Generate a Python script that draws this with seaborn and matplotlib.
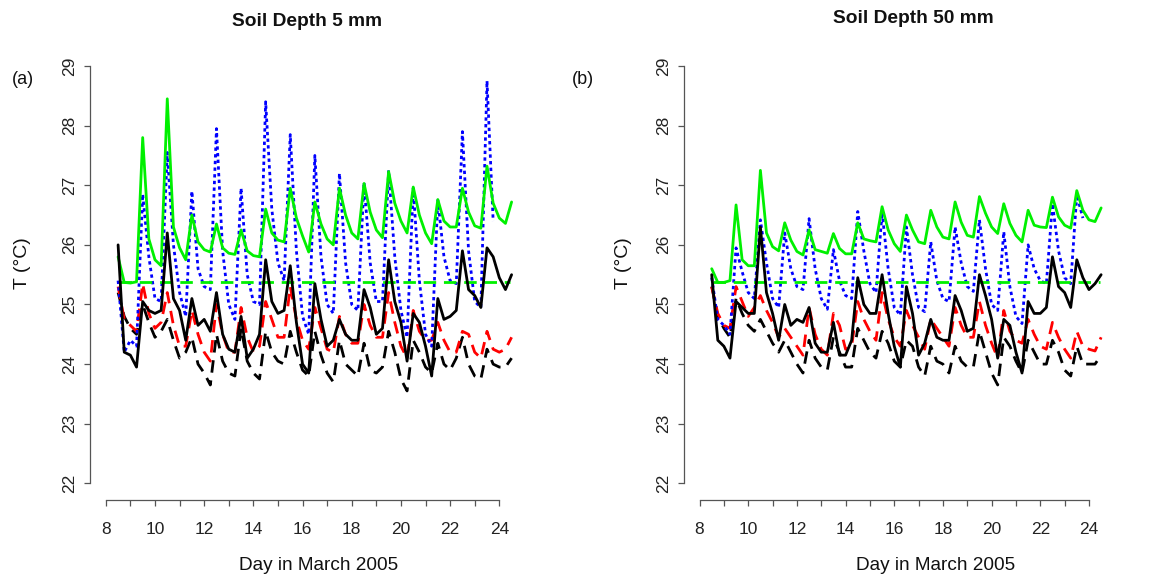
import numpy as np
import pandas as pd
import matplotlib
matplotlib.use("Agg")
import matplotlib.pyplot as plt
import seaborn as sns

# sampling clock: every 6 h, 8.5 .. 24.5 March 2005
day = np.arange(8.5, 24.51, 0.25)

# ---- (a) soil depth 5 mm ----
a_green = [25.8, 25.37, 25.36, 25.38,
           27.8, 26.1, 25.75, 25.65,
           28.45, 26.3, 25.95, 25.75,
           26.5, 26.05, 25.92, 25.88,
           26.35, 25.95, 25.86, 25.84,
           26.25, 25.9, 25.82, 25.8,
           26.6, 26.2, 26.08, 26.05,
           26.95, 26.45, 26.15, 25.88,
           26.72, 26.35, 26.1, 26.0,
           26.95, 26.5, 26.2, 26.1,
           27.03, 26.55, 26.25, 26.12,
           27.23, 26.7, 26.4, 26.2,
           26.97, 26.5, 26.2, 26.02,
           26.76, 26.4, 26.3, 26.3,
           26.95, 26.55, 26.32, 26.28,
           27.32, 26.7, 26.45, 26.36,
           26.72]
a_blue = [25.4, 24.2, 24.4, 24.3,
          26.85, 25.8, 25.1, 25.05,
          27.55, 26.0, 25.2, 24.8,
          26.9, 25.6, 25.3, 25.25,
          27.95, 25.9, 25.0, 24.75,
          26.95, 25.5, 25.05, 25.0,
          28.4, 26.6, 25.7, 25.4,
          27.85, 25.9, 24.8, 24.5,
          27.5, 25.8, 25.0, 24.85,
          27.2, 25.7, 25.0, 24.9,
          27.05, 25.7, 25.05, 25.05,
          27.25, 25.8, 24.9, 24.45,
          26.95, 25.4, 24.5, 24.3,
          26.75, 25.8, 25.4, 25.35,
          27.9, 25.9, 25.05, 24.95,
          28.75, 26.4]
a_black = [26.0, 24.2, 24.15, 23.95,
           25.05, 24.9, 24.85, 24.9,
           26.2, 25.1, 24.9, 24.4,
           25.1, 24.65, 24.75, 24.55,
           25.2, 24.5, 24.25, 24.2,
           24.8, 24.1, 24.25, 24.5,
           25.75, 25.05, 24.85, 24.9,
           25.65, 24.7, 24.0, 23.85,
           25.35, 24.75, 24.3, 24.4,
           24.75, 24.5, 24.4, 24.4,
           25.25, 24.95, 24.5, 24.6,
           25.75, 25.05, 24.7, 24.05,
           24.85, 24.7, 24.3, 23.8,
           25.1, 24.75, 24.8, 24.9,
           25.9, 25.25, 25.15, 24.95,
           25.95, 25.8, 25.45, 25.25,
           25.5]
a_red = [25.3, 24.75, 24.65, 24.55,
         25.35, 24.85, 24.6, 24.7,
         25.2, 24.65, 24.3, 24.3,
         24.9, 24.5, 24.2, 24.05,
         25.0, 24.5, 24.2, 24.2,
         24.95, 24.45, 24.2, 24.3,
         25.05, 24.75, 24.45, 24.45,
         25.3, 24.75, 24.4, 24.25,
         24.95, 24.6, 24.25, 24.2,
         24.8, 24.5, 24.35, 24.35,
         25.0, 24.65, 24.45, 24.45,
         25.2, 24.7, 24.3, 24.1,
         24.9, 24.55, 24.4, 24.4,
         24.7, 24.4, 24.2, 24.2,
         24.55, 24.5, 24.2, 24.1,
         24.55, 24.25, 24.2, 24.25,
         24.45]
a_black_dash = [25.2, 24.8, 24.6, 24.5,
                25.0, 24.7, 24.45, 24.55,
                24.75, 24.4, 24.1, 24.2,
                24.45, 24.0, 23.85, 23.65,
                24.5, 24.05, 23.85, 23.8,
                24.6, 24.05, 23.85, 23.75,
                24.55, 24.2, 24.05, 24.0,
                24.55, 24.2, 23.9, 23.8,
                24.55, 24.15, 23.85, 23.7,
                24.4, 24.0, 23.9, 23.8,
                24.35, 23.9, 23.85, 23.95,
                24.55, 24.2, 23.75, 23.55,
                24.4, 24.2, 23.95, 23.85,
                24.35, 24.0, 23.9, 24.1,
                24.45, 24.0, 23.8, 23.75,
                24.25, 24.0, 23.95, 23.95,
                24.1]

# ---- (b) soil depth 50 mm ----
b_green = [25.6, 25.37, 25.37, 25.4,
           26.67, 25.75, 25.65, 25.65,
           27.25, 26.2, 25.97, 25.9,
           26.37, 26.08, 25.89, 25.83,
           26.25, 25.92, 25.89, 25.86,
           26.19, 25.94, 25.85, 25.85,
           26.37, 26.1, 26.07, 26.05,
           26.64, 26.25, 26.02, 25.89,
           26.5, 26.25, 26.05, 26.02,
           26.58, 26.3, 26.13, 26.1,
           26.72, 26.38, 26.16, 26.13,
           26.81, 26.53, 26.3, 26.19,
           26.69, 26.36, 26.16, 26.05,
           26.58, 26.33, 26.3, 26.29,
           26.8, 26.47, 26.33, 26.28,
           26.91, 26.58, 26.42, 26.39,
           26.62]
b_blue = [25.45, 24.75, 24.65, 24.5,
          25.95, 25.55, 25.2, 25.1,
          26.42, 25.7, 25.1, 24.95,
          26.2, 25.6, 25.3, 25.25,
          26.44, 25.6, 25.1, 24.92,
          25.92, 25.4, 25.15, 25.1,
          26.56, 25.9, 25.35, 25.2,
          26.55, 25.6, 24.95, 24.82,
          26.3, 25.5, 24.95, 24.88,
          26.05, 25.4, 25.1, 25.05,
          26.3, 25.7, 25.3, 25.22,
          26.42, 25.6, 25.0, 24.9,
          26.22, 25.3, 24.8, 24.68,
          26.0, 25.6, 25.4, 25.35,
          26.69, 25.9, 25.45, 25.35,
          26.84, 26.45]
b_black = [25.5, 24.4, 24.3, 24.1,
           25.05, 24.95, 24.85, 24.85,
           26.3, 25.2, 24.85, 24.4,
           25.0, 24.65, 24.75, 24.7,
           24.95, 24.35, 24.2, 24.2,
           24.7, 24.15, 24.15, 24.4,
           25.45, 25.0, 24.85, 24.85,
           25.5, 24.85, 24.3, 23.95,
           25.3, 24.85, 24.15, 24.35,
           24.75, 24.45, 24.4, 24.4,
           25.15, 24.9, 24.55, 24.6,
           25.5, 25.15, 24.75, 24.1,
           24.75, 24.65, 24.2, 23.85,
           25.05, 24.85, 24.85, 24.95,
           25.8, 25.3, 25.2, 24.95,
           25.75, 25.45, 25.25, 25.35,
           25.5]
b_red = [25.3, 24.85, 24.65, 24.6,
         25.3, 25.05, 24.8, 24.95,
         25.15, 24.9, 24.7, 24.45,
         24.6, 24.45, 24.3, 24.15,
         24.95, 24.5, 24.25, 24.15,
         24.85, 24.65, 24.25, 24.3,
         25.05, 24.75, 24.55, 24.4,
         25.2, 24.75, 24.45, 24.3,
         24.9, 24.65, 24.45, 24.25,
         24.75, 24.6, 24.45, 24.3,
         24.95, 24.65, 24.45, 24.45,
         25.05, 24.65, 24.35, 24.1,
         24.9, 24.55, 24.4, 24.35,
         24.75, 24.5, 24.3, 24.25,
         24.7, 24.45, 24.25, 24.1,
         24.55, 24.3, 24.25, 24.22,
         24.45]
b_black_dash = [25.3, 24.8, 24.6, 24.45,
                25.1, 24.85, 24.65, 24.55,
                24.75, 24.55, 24.35, 24.2,
                24.4, 24.2, 24.0, 23.85,
                24.4, 24.1, 23.95, 23.9,
                24.45, 24.2, 23.95, 23.95,
                24.6, 24.4, 24.2, 24.1,
                24.55, 24.35, 24.05, 23.95,
                24.4, 24.3, 23.95, 23.8,
                24.3, 24.05, 24.0, 23.85,
                24.3, 24.05, 23.95, 23.95,
                24.55, 24.2, 23.85, 23.65,
                24.45, 24.3, 24.05, 23.85,
                24.4, 24.2, 24.0, 24.0,
                24.4, 24.2, 23.9, 23.8,
                24.3, 24.0, 24.0, 24.0,
                24.15]

# flat reference run (green dashed)
ref_day = [8.55, 24.45]
a_ref = [25.38, 25.38]
b_ref = [25.38, 25.38]

sns.set_style("white")
plt.rcParams["font.family"] = ["Liberation Sans", "DejaVu Sans"]

fig = plt.figure(figsize=(11.65, 5.77), dpi=100)
ax_a = fig.add_axes([0.0773, 0.1334, 0.3648, 0.7811])
ax_b = fig.add_axes([0.5871, 0.1334, 0.3610, 0.7811])

dash = (0, (4.5, 2.8))
dots = (0, (1.2, 1.2))
lw = 2.0
green = "#00f000"


def draw(ax, g, blue, black, red, black_dash, ref):
    sns.lineplot(x=day, y=black_dash, ax=ax, color="black", lw=lw, linestyle=dash)
    sns.lineplot(x=day, y=red, ax=ax, color="#ff0000", lw=lw, linestyle=dash)
    sns.lineplot(x=day[:len(blue)], y=blue, ax=ax, color="#0000ff", lw=lw, linestyle=dots)
    sns.lineplot(x=ref_day, y=ref, ax=ax, color=green, lw=lw, linestyle=dash)
    sns.lineplot(x=day, y=g, ax=ax, color=green, lw=lw)
    sns.lineplot(x=day, y=black, ax=ax, color="black", lw=lw)

    ax.set_xlim(7.36, 24.64)
    ax.set_ylim(21.72, 29.28)
    ax.set_xticks(range(8, 25))
    ax.set_xticklabels([str(d) if d % 2 == 0 else "" for d in range(8, 25)])
    ax.set_yticks(range(22, 30))
    ax.set_yticklabels([str(v) for v in range(22, 30)], rotation=90, va="center")
    ax.spines["top"].set_visible(False)
    ax.spines["right"].set_visible(False)
    ax.spines["left"].set_bounds(22, 29)
    ax.spines["bottom"].set_bounds(8, 24)
    for s in ("left", "bottom"):
        ax.spines[s].set_color("#555555")
        ax.spines[s].set_linewidth(0.9)
    ax.tick_params(axis="both", bottom=True, left=True, direction="out",
                   length=4.5, width=0.9, color="#555555",
                   labelsize=12.5, labelcolor="#222222")
    ax.tick_params(axis="x", pad=11)
    ax.tick_params(axis="y", pad=4.5)
    ax.set_xlabel("")
    ax.set_ylabel("")


draw(ax_a, a_green, a_blue, a_black, a_red, a_black_dash, a_ref)
draw(ax_b, b_green, b_blue, b_black, b_red, b_black_dash, b_ref)

W, H = 1165, 577
txt = dict(ha="center", va="center", color="#111111")
fig.text(307 / W, 1 - 21 / H, "Soil Depth 5 mm", fontsize=13.8, fontweight="bold", **txt)
fig.text(913 / W, 1 - 18.5 / H, "Soil Depth 50 mm", fontsize=13.8, fontweight="bold", **txt)
fig.text(22.5 / W, 1 - 79.5 / H, "(a)", fontsize=13, **txt)
fig.text(583 / W, 1 - 79.5 / H, "(b)", fontsize=13, **txt)
fig.text(22.5 / W, 1 - 263.5 / H, "T (°C)", fontsize=14, rotation=90, **txt)
fig.text(624 / W, 1 - 263.5 / H, "T (°C)", fontsize=14, rotation=90, **txt)
fig.text(319 / W, 1 - 566 / H, "Day in March 2005", fontsize=13.7, **txt)
fig.text(936 / W, 1 - 565 / H, "Day in March 2005", fontsize=13.7, **txt)

fig.savefig("out.png", dpi=100)
